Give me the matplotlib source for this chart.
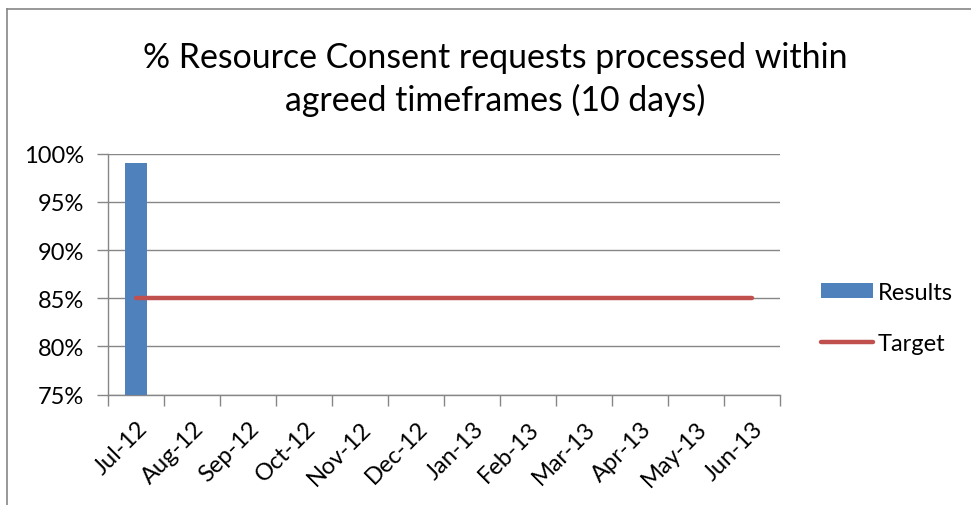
import matplotlib
matplotlib.use("Agg")
import matplotlib.pyplot as plt
import numpy as np
from matplotlib.lines import Line2D
from matplotlib.patches import Patch

months = ["Jul-12", "Aug-12", "Sep-12", "Oct-12", "Nov-12", "Dec-12",
          "Jan-13", "Feb-13", "Mar-13", "Apr-13", "May-13", "Jun-13"]
results = [99.0, None, None, None, None, None, None, None, None, None, None, None]
target = [85] * 12
yticks = [75, 80, 85, 90, 95, 100]

plt.rcParams['font.family'] = ['Lato', 'DejaVu Sans']

W, H = 971, 506
fig = plt.figure(figsize=(W / 100, H / 100), dpi=100)
fig.patch.set_facecolor('white')

left, right, top, bottom = 108, 780, 154.7, 395.7
ax = fig.add_axes([left / W, 1 - bottom / H, (right - left) / W, (bottom - top) / H])

x = np.arange(len(months))
ymin = yticks[0]
heights = [(v - ymin) if v is not None else 0 for v in results]
ax.bar(x, heights, bottom=ymin, width=0.4, color='#4F81BD', zorder=3)
ax.plot(x, target, color='#C0504D', lw=3.2, solid_capstyle='round', zorder=4)

ax.set_xlim(-0.5, len(months) - 0.5)
ax.set_ylim(yticks[0], yticks[-1])
ax.set_yticks(yticks)
ax.set_yticklabels([f"{t}%" for t in yticks], fontsize=17, color='#000000')
ax.grid(axis='y', color='#868686', lw=1.0, zorder=0)
ax.tick_params(axis='y', length=8, color='#868686', width=1, pad=9)

ax.set_xticks(x)
ax.set_xticks(np.arange(-0.5, len(months)), minor=True)
ax.tick_params(axis='x', which='major', length=0, pad=0)
ax.tick_params(axis='x', which='minor', length=8, color='#868686', width=1)
ax.set_xticklabels([])
for i, m in enumerate(months):
    ax.annotate(m, xy=(i, ymin), xycoords='data', xytext=(8, -30),
                textcoords='offset pixels', rotation=45, rotation_mode='anchor',
                ha='right', va='center', fontsize=17)

for s in ['top', 'right']:
    ax.spines[s].set_visible(False)
for s in ['left', 'bottom']:
    ax.spines[s].set_color('#868686')
    ax.spines[s].set_linewidth(1)

fig.text(495 / W, 1 - 58 / H, "% Resource Consent requests processed within",
         ha='center', va='center', fontsize=24.4)
fig.text(495 / W, 1 - 100 / H, "agreed timeframes (10 days)",
         ha='center', va='center', fontsize=24.4)

handles = [Patch(facecolor='#4F81BD', edgecolor='none', label='Results'),
           Line2D([0], [0], color='#C0504D', lw=3.2, solid_capstyle='round', label='Target')]
leg = fig.legend(handles=handles, loc='center left',
                 bbox_to_anchor=(821 / W, 1 - 319 / H), frameon=False,
                 fontsize=17, handlelength=2.2, handleheight=0.6,
                 handletextpad=0.2, labelspacing=1.3, borderpad=0,
                 borderaxespad=0)

# outer chart border (left and top visible)
fig.add_artist(Line2D([7 / W, 7 / W], [0, 1 - 10 / H], color='#868686', lw=1.2))
fig.add_artist(Line2D([7 / W, 1], [1 - 10 / H, 1 - 10 / H], color='#868686', lw=1.2))

fig.savefig("out.png", dpi=100, facecolor='white')
